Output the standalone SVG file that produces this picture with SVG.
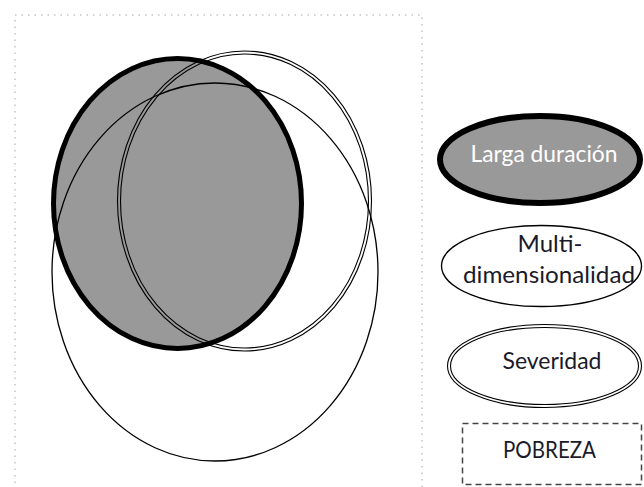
<svg xmlns="http://www.w3.org/2000/svg" width="644" height="487" viewBox="0 0 644 487">
<style>
.frame{fill:none;stroke:#c4c4c4;stroke-width:1.5;stroke-dasharray:1.5 5}
.thin{fill:none;stroke:#000;stroke-width:1.3}
.dbl{fill:none;stroke:#000;stroke-width:1.1}
.thick{fill:none;stroke:#000;stroke-width:5}
.gray{fill:#999999}
.lbl{font-family:Lato,"Open Sans","Liberation Sans",sans-serif;font-size:23px;fill:#1a1a2a;text-anchor:middle}
.wl{fill:#ffffff}
</style>
<rect class="frame" x="15" y="15" width="407" height="490"/>
<g id="venn">
  <ellipse class="gray" cx="177.5" cy="203.5" rx="124" ry="145"/>
  <g id="multidimensionalidad-set"><ellipse class="thin" cx="215" cy="272" rx="163" ry="189"/></g>
  <g id="severidad-set">
    <ellipse class="dbl" cx="244.5" cy="201" rx="127" ry="150"/>
    <ellipse class="dbl" cx="244.5" cy="201" rx="124" ry="147"/>
  </g>
  <g id="larga-duracion-set"><ellipse class="thick" cx="177.5" cy="203.5" rx="124" ry="145"/></g>
</g>
<g id="connectors"/>
<g id="legend-larga">
  <ellipse cx="540" cy="159.5" rx="100" ry="43.5" fill="#999999" stroke="#000" stroke-width="6"/>
  <text class="lbl wl" x="544" y="162" textLength="147" lengthAdjust="spacingAndGlyphs">Larga duración</text>
</g>
<g id="legend-multi">
  <ellipse class="thin" cx="541.5" cy="266" rx="100" ry="40.5"/>
  <text class="lbl" x="550" y="252" textLength="65" lengthAdjust="spacingAndGlyphs">Multi-</text>
  <text class="lbl" x="549" y="283" textLength="172" lengthAdjust="spacingAndGlyphs">dimensionalidad</text>
</g>
<g id="legend-severidad">
  <ellipse class="dbl" cx="544.5" cy="366" rx="97" ry="41.5"/>
  <ellipse class="dbl" cx="544.5" cy="366" rx="94" ry="38.5"/>
  <text class="lbl" x="552" y="369" textLength="99" lengthAdjust="spacingAndGlyphs">Severidad</text>
</g>
<g id="legend-pobreza">
  <rect x="462.5" y="423.5" width="179" height="61" fill="none" stroke="#444" stroke-width="1.5" stroke-dasharray="6 4"/>
  <text class="lbl" x="549.5" y="458" textLength="93" lengthAdjust="spacingAndGlyphs">POBREZA</text>
</g>
</svg>
